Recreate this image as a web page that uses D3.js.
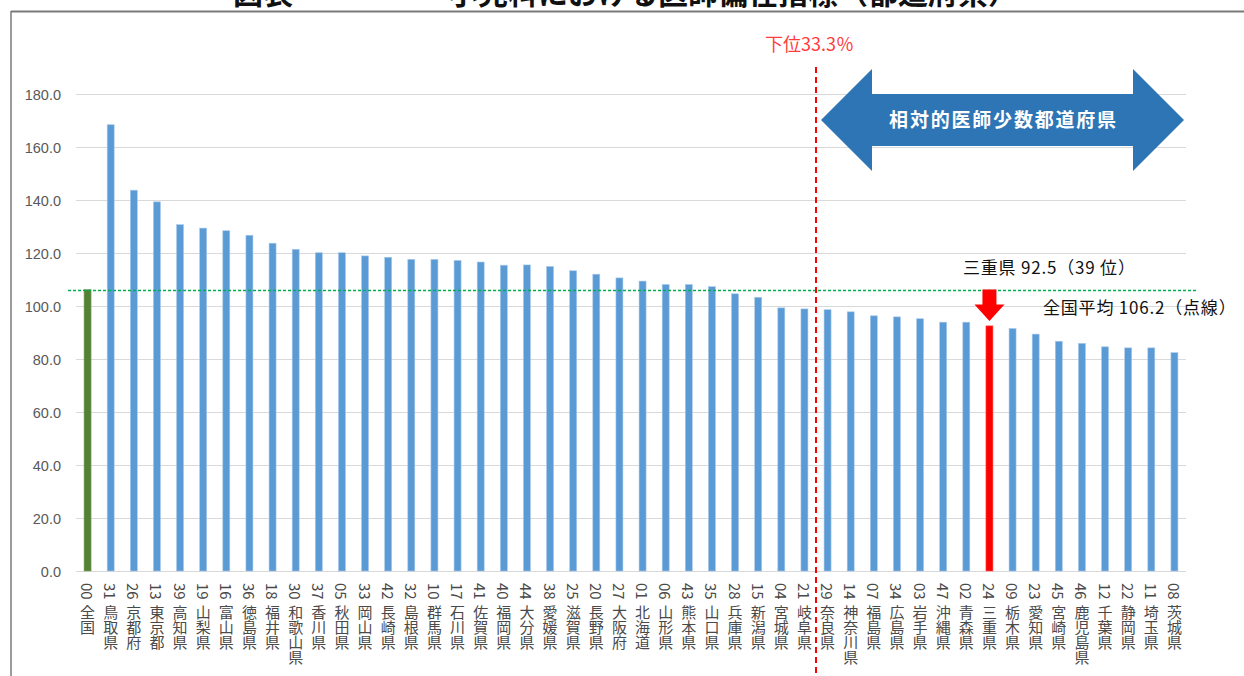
<!DOCTYPE html>
<html lang="ja">
<head>
<meta charset="utf-8">
<script src="https://cdn.jsdelivr.net/npm/d3@7"></script>
<style>
  html, body { margin: 0; padding: 0; background: #fff; }
  svg { display: block; }
</style>
</head>
<body>
<svg id="chart" width="1244" height="676"></svg>
<script>
// 都道府県コード
const codes = ["00","31","26","13","39","19","16","36","18","30","37","05","33","42","32","10",
  "17","41","40","44","38","25","20","27","01","06","43","35","28","15","04","21",
  "29","14","07","34","03","47","02","24","09","23","45","46","12","22","11","08"];

// 都道府県名
const names = ["全国","鳥取県","京都府","東京都","高知県","山梨県","富山県","徳島県","福井県","和歌山県","香川県","秋田県","岡山県","長崎県","島根県","群馬県",
  "石川県","佐賀県","福岡県","大分県","愛媛県","滋賀県","長野県","大阪府","北海道","山形県","熊本県","山口県","兵庫県","新潟県","宮城県","岐阜県",
  "奈良県","神奈川県","福島県","広島県","岩手県","沖縄県","青森県","三重県","栃木県","愛知県","宮崎県","鹿児島県","千葉県","静岡県","埼玉県","茨城県"];

// 小児科医師偏在指標
const values = [106.2,168.4,143.7,139.3,130.7,129.4,128.4,126.7,123.7,121.4,120.1,120.1,118.9,118.4,117.6,117.6,
  117.2,116.6,115.4,115.5,114.9,113.3,112.0,110.6,109.4,108.1,108.1,107.3,104.6,103.3,99.3,98.9,
  98.6,97.8,96.3,95.9,95.2,93.9,93.9,92.5,91.5,89.4,86.7,85.9,84.6,84.2,84.2,82.4];

// 縦軸目盛
const yTicks = [0,20,40,60,80,100,120,140,160,180];

const nationalAvg = 106.2;   // 全国平均
const focusCode = "24";      // 三重県
const lowerGroupCount = 16;  // 下位33.3%（相対的医師少数都道府県）

const svg = d3.select("#chart");
const jp = "'Noto Sans CJK JP', 'Noto Sans', sans-serif";

// 外枠
svg.append("line").attr("x1", 11).attr("x2", 1244).attr("y1", 11.5).attr("y2", 11.5)
  .attr("stroke", "#7a7a7a").attr("stroke-width", 2);
svg.append("line").attr("x1", 11).attr("x2", 11).attr("y1", 11).attr("y2", 676)
  .attr("stroke", "#7a7a7a").attr("stroke-width", 1.5);

// 表題（上端で切れている）
svg.append("text").attr("x", 233).attr("y", 4)
  .attr("font-family", jp).attr("font-size", 30).attr("font-weight", 700).attr("fill", "#111")
  .text("図表");
svg.append("text").attr("x", 448).attr("y", 4)
  .attr("font-family", jp).attr("font-size", 30).attr("font-weight", 700).attr("fill", "#111")
  .text("小児科における医師偏在指標（都道府県）");

const x = d3.scaleBand().domain(d3.range(codes.length)).range([76, 1186]).padding(0);
const y = d3.scaleLinear().domain([0, 180]).range([571, 94]);
const barW = 7;
const cx = i => x(i) + x.bandwidth() / 2;

// 目盛線
svg.append("g").selectAll("line").data(yTicks).join("line")
  .attr("x1", 76).attr("x2", 1186)
  .attr("y1", d => Math.round(y(d)) + 0.5).attr("y2", d => Math.round(y(d)) + 0.5)
  .attr("stroke", "#d9d9d9").attr("stroke-width", 1);

// 縦軸ラベル
const yAxis = d3.axisLeft(y).tickValues(yTicks).tickFormat(d3.format(".1f")).tickSize(0).tickPadding(0);
const gy = svg.append("g").attr("transform", "translate(61,0)").call(yAxis);
gy.select(".domain").remove();
gy.selectAll("text").attr("font-family", "'Liberation Sans', Arial, sans-serif")
  .attr("font-size", 14.5).attr("fill", "#595959").attr("dy", "0.35em");

// 棒
svg.append("g").selectAll("rect").data(values).join("rect")
  .attr("x", (d, i) => cx(i) - barW / 2)
  .attr("y", d => y(d))
  .attr("width", barW)
  .attr("height", d => y(0) - y(d))
  .attr("fill", (d, i) => codes[i] === "00" ? "#548235" : codes[i] === focusCode ? "#ff0000" : "#5b9bd5")
  .attr("stroke", (d, i) => codes[i] === "00" ? "#7fa060" : codes[i] === focusCode ? "#ff5050" : "#a9c9ea")
  .attr("stroke-width", 0.6);

// 横軸ラベル（縦書き）：コードと名称
const gx = svg.append("g").attr("font-family", jp).attr("font-size", 15).attr("fill", "#4a4a4a");
gx.selectAll("text.code").data(codes).join("text").attr("class", "code")
  .attr("x", (d, i) => cx(i)).attr("y", 583)
  .style("writing-mode", "vertical-rl")
  .text(d => d);
gx.selectAll("text.name").data(names).join("text").attr("class", "name")
  .attr("x", (d, i) => cx(i)).attr("y", 605)
  .style("writing-mode", "vertical-rl")
  .text(d => d);

// 全国平均（点線）
svg.append("line")
  .attr("x1", 68).attr("x2", 1198)
  .attr("y1", Math.round(y(nationalAvg)) + 0.5).attr("y2", Math.round(y(nationalAvg)) + 0.5)
  .attr("stroke", "#00b050").attr("stroke-width", 1.3).attr("stroke-dasharray", "3,2");

// 下位33.3%の境界線
const splitX = x(codes.length - lowerGroupCount);
svg.append("line")
  .attr("x1", splitX).attr("x2", splitX).attr("y1", 67).attr("y2", 676)
  .attr("stroke", "#ff0000").attr("stroke-width", 2).attr("stroke-dasharray", "6,4");
svg.append("text").attr("x", splitX - 51).attr("y", 51)
  .attr("font-family", jp).attr("font-size", 18).attr("fill", "#ff3b3b")
  .text("下位33.3％");

// 相対的医師少数都道府県の両矢印
const aL = 821, aR = 1184, aMid = 120, headW = 51, headH = 51, shaftH = 26;
const arrowPts = [
  [aL, aMid], [aL + headW, aMid - headH], [aL + headW, aMid - shaftH],
  [aR - headW, aMid - shaftH], [aR - headW, aMid - headH], [aR, aMid],
  [aR - headW, aMid + headH], [aR - headW, aMid + shaftH], [aL + headW, aMid + shaftH],
  [aL + headW, aMid + headH]
];
svg.append("polygon").attr("points", arrowPts.map(p => p.join(",")).join(" "))
  .attr("fill", "#2e75b6");
svg.append("text").attr("x", (aL + aR) / 2 + 1).attr("y", aMid).attr("dy", "0.36em")
  .attr("text-anchor", "middle").attr("font-family", jp).attr("font-size", 19)
  .attr("font-weight", 700).attr("letter-spacing", 1.8).attr("fill", "#fff")
  .text("相対的医師少数都道府県");

// 三重県の矢印
const fi = codes.indexOf(focusCode);
const fx = cx(fi), fTop = y(nationalAvg), fTip = y(values[fi]) - 5;
const dArrow = [
  [fx - 7, fTop], [fx + 7, fTop], [fx + 7, fTop + 15], [fx + 15, fTop + 15],
  [fx, fTip], [fx - 15, fTop + 15], [fx - 7, fTop + 15]
];
svg.append("polygon").attr("points", dArrow.map(p => p.join(",")).join(" ")).attr("fill", "#ff0000");

// 注記
const rank = fi; // 全国を除いた順位
svg.append("text").attr("x", 963).attr("y", 274)
  .attr("font-family", jp).attr("font-size", 17).attr("letter-spacing", 0.8).attr("fill", "#111")
  .text(`${names[fi]} ${values[fi].toFixed(1)}（${rank} 位）`);
svg.append("text").attr("x", 1043).attr("y", 314)
  .attr("font-family", jp).attr("font-size", 17).attr("letter-spacing", 0.8).attr("fill", "#111")
  .text(`全国平均 ${nationalAvg.toFixed(1)}（点線）`);
</script>
</body>
</html>
